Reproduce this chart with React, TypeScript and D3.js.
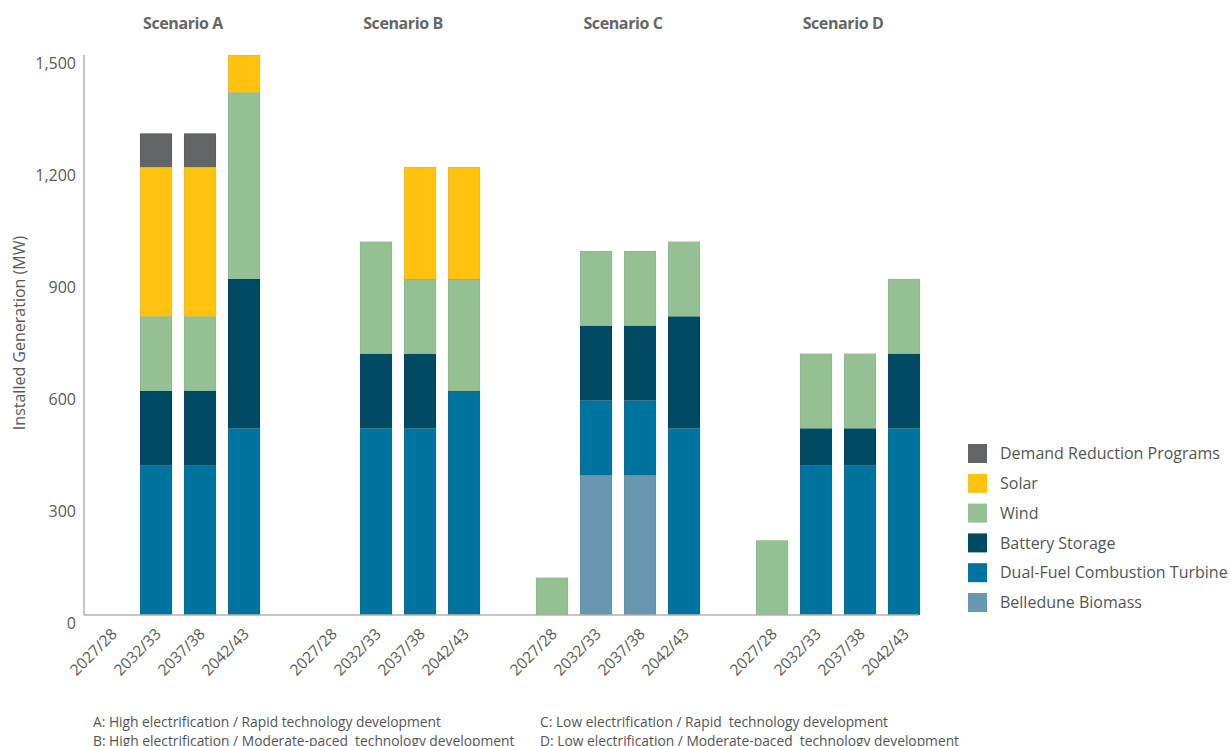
import React from "react";
import * as d3 from "d3";

const scenarios = ["A", "B", "C", "D"];
const scenarioTitles = ["Scenario A", "Scenario B", "Scenario C", "Scenario D"];
const years = ["2027/28", "2032/33", "2037/38", "2042/43"];

// series (bottom to top), values per scenario per year
const seriesNames = [
  "Belledune Biomass",
  "Dual-Fuel Combustion Turbine",
  "Battery Storage",
  "Wind",
  "Solar",
  "Demand Reduction Programs",
];
const seriesColors = ["#6898AF", "#00739F", "#004A63", "#94C093", "#FEC20F", "#636466"];

const biomass = { A: [0, 0, 0, 0], B: [0, 0, 0, 0], C: [0, 375, 375, 0], D: [0, 0, 0, 0] };
const dualFuel = { A: [0, 400, 400, 500], B: [0, 500, 500, 600], C: [0, 200, 200, 500], D: [0, 400, 400, 500] };
const battery = { A: [0, 200, 200, 400], B: [0, 200, 200, 0], C: [0, 200, 200, 300], D: [0, 100, 100, 200] };
const wind = { A: [0, 200, 200, 500], B: [0, 300, 200, 300], C: [100, 200, 200, 200], D: [200, 200, 200, 200] };
const solar = { A: [0, 400, 400, 100], B: [0, 0, 300, 300], C: [0, 0, 0, 0], D: [0, 0, 0, 0] };
const demand = { A: [0, 90, 90, 0], B: [0, 0, 0, 0], C: [0, 0, 0, 0], D: [0, 0, 0, 0] };
const seriesData = [biomass, dualFuel, battery, wind, solar, demand];

const yTicks = [0, 300, 600, 900, 1200, 1500];
const legendOrder = [5, 4, 3, 2, 1, 0];
const footnotes = [
  "A: High electrification / Rapid technology development",
  "B: High electrification / Moderate-paced  technology development",
  "C: Low electrification / Rapid  technology development",
  "D: Low electrification / Moderate-paced  technology development",
];

const FONT = "'Open Sans', 'Noto Sans', sans-serif";

export default function App() {
  const W = 1230;
  const H = 746;
  const axisX = 84;
  const axisRight = 919;

  const y = d3.scaleLinear().domain([0, 1500]).range([615, 55]);
  const xOuter = d3.scaleBand<string>().domain(scenarios).range([90, 926]).paddingInner(0.2).paddingOuter(0);
  const xInner = d3
    .scaleBand<string>()
    .domain(years)
    .range([0, xOuter.bandwidth()])
    .paddingInner(12 / 44)
    .paddingOuter(6 / 44);

  const rows: any[] = [];
  scenarios.forEach((s) => {
    years.forEach((yr, i) => {
      const row: any = { scenario: s, year: yr };
      seriesNames.forEach((n, k) => {
        row[n] = (seriesData[k] as any)[s][i];
      });
      rows.push(row);
    });
  });
  const stacked = d3.stack<any>().keys(seriesNames)(rows);
  const fmt = d3.format(",");

  return (
    <svg
      width={W}
      height={H}
      viewBox={`0 0 ${W} ${H}`}
      style={{ position: "absolute", left: 0, top: 0, background: "#fff" }}
    >
      {/* scenario titles */}
      {scenarios.map((s, i) => (
        <text
          key={s}
          x={(xOuter(s) as number) + xOuter.bandwidth() / 2 + 5}
          y={23}
          dy="0.35em"
          textAnchor="middle"
          fontFamily={FONT}
          fontWeight={700}
          fontSize={16}
          fill="#666"
          letterSpacing={-0.4}
        >
          {scenarioTitles[i]}
        </text>
      ))}

      {/* bars */}
      {stacked.map((layer, k) => (
        <g key={seriesNames[k]} fill={seriesColors[k]}>
          {layer.map((d: any, j: number) => {
            const h = y(d[0]) - y(d[1]);
            if (h <= 0) return null;
            const x = (xOuter(d.data.scenario) as number) + (xInner(d.data.year) as number);
            return (
              <rect
                key={j}
                x={x}
                y={y(d[1])}
                width={xInner.bandwidth()}
                height={h}
                stroke="rgba(0,0,0,0.08)"
                strokeWidth={0.6}
              />
            );
          })}
        </g>
      ))}

      {/* axes */}
      <line x1={axisX} x2={axisX} y1={y(1500)} y2={y(0)} stroke="#b3b3b3" strokeWidth={1.5} />
      <line x1={axisX} x2={axisRight} y1={y(0)} y2={y(0)} stroke="#b3b3b3" strokeWidth={1.5} />

      {yTicks.map((t) => (
        <text
          key={t}
          x={76}
          y={y(t) + 8}
          dy="0.35em"
          textAnchor="end"
          fontFamily={FONT}
          fontSize={16}
          fill="#5a5a5a"
        >
          {fmt(t)}
        </text>
      ))}

      <text
        transform={`translate(19, ${333}) rotate(-90)`}
        textAnchor="middle"
        dy="0.35em"
        fontFamily={FONT}
        fontSize={16}
        fill="#5a5a5a"
      >
        Installed Generation (MW)
      </text>

      {/* x labels */}
      {scenarios.map((s) =>
        years.map((yr) => {
          const cx = (xOuter(s) as number) + (xInner(yr) as number) + xInner.bandwidth() / 2;
          return (
            <text
              key={s + yr}
              transform={`translate(${cx + 6}, ${635}) rotate(-45)`}
              textAnchor="end"
              fontFamily={FONT}
              fontSize={15.5}
              fill="#5a5a5a"
            >
              {yr}
            </text>
          );
        })
      )}

      {/* legend */}
      {legendOrder.map((k, i) => {
        const cy = 453.5 + i * 29.8;
        return (
          <g key={seriesNames[k]}>
            <rect x={968} y={cy - 9.5} width={19} height={19} fill={seriesColors[k]} />
            <text
              x={1000}
              y={cy}
              dy="0.35em"
              fontFamily={FONT}
              fontSize={16}
              fill="#555"
            >
              {seriesNames[k]}
            </text>
          </g>
        );
      })}

      {/* footnotes */}
      {footnotes.map((f, i) => (
        <text
          key={i}
          x={i < 2 ? 93 : 540}
          y={i % 2 === 0 ? 722 : 741}
          dy="0.35em"
          fontFamily={FONT}
          fontSize={13.8}
          fill="#555"
          style={{ whiteSpace: "pre" }}
        >
          {f}
        </text>
      ))}
    </svg>
  );
}
